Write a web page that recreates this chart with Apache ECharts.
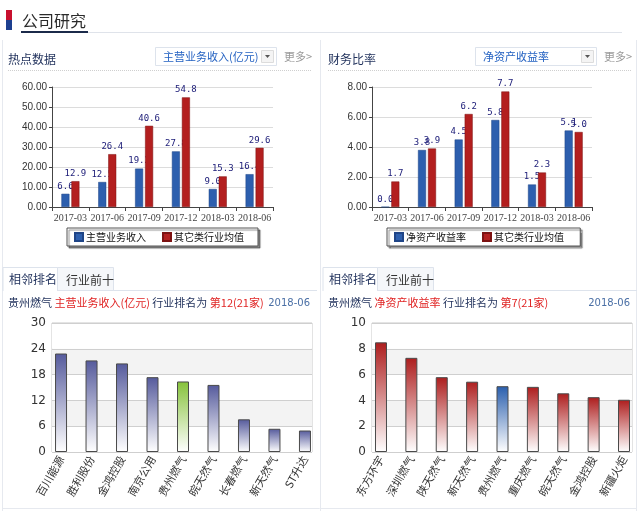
<!DOCTYPE html>
<html>
<head>
<meta charset="utf-8">
<script src="https://cdn.jsdelivr.net/npm/echarts@6/dist/echarts.min.js"></script>
<style>
  html, body { margin: 0; padding: 0; background: #fff; }
  #main { width: 640px; height: 511px; }
</style>
</head>
<body>
<div id="main"></div>
<script>
// 热点数据 / 财务比率
var periods = ["2017-03", "2017-06", "2017-09", "2017-12", "2018-03", "2018-06"];
var revenue = [6.6, 12.5, 19.2, 27.8, 9.0, 16.4];
var revenueAvg = [12.9, 26.4, 40.6, 54.8, 15.3, 29.6];
var roe = [0.0, 3.8, 4.5, 5.8, 1.5, 5.1];
var roeAvg = [1.7, 3.9, 6.2, 7.7, 2.3, 5.0];

// 相邻排名
var revenueRankNames = ["百川能源", "胜利股份", "金鸿控股", "南京公用", "贵州燃气", "皖天然气", "长春燃气", "新天然气", "ST升达"];
var revenueRankValues = [22.9, 21.3, 20.6, 17.4, 16.4, 15.6, 7.6, 5.4, 5.0];
var roeRankNames = ["东方环宇", "深圳燃气", "陕天然气", "新天然气", "贵州燃气", "重庆燃气", "皖天然气", "金鸿控股", "新疆火炬"];
var roeRankValues = [8.5, 7.3, 5.8, 5.45, 5.1, 5.05, 4.55, 4.25, 4.05];
var selfName = "贵州燃气";

var CJK = "'Noto Sans CJK SC', sans-serif";
var BLUE = "#2d5fae", RED = "#b31f1f";

function grad(top) {
  return new echarts.graphic.LinearGradient(0, 0, 0, 1, [
    { offset: 0, color: top },
    { offset: 1, color: "#ffffff" }
  ]);
}

function rankData(names, values, normal, highlight) {
  return values.map(function (v, i) {
    return {
      value: v,
      itemStyle: { color: grad(names[i] === selfName ? highlight : normal) }
    };
  });
}

// 上方两个柱状图的坐标轴
function topX(idx) {
  return {
    gridIndex: idx, type: "category", data: periods,
    axisLine: { lineStyle: { color: "#444" } },
    axisTick: { show: true, length: 4, lineStyle: { color: "#444" } },
    axisLabel: { interval: 0, color: "#444", fontSize: 10, fontFamily: "'Liberation Serif'", margin: 6 }
  };
}
function topY(idx, max, step) {
  return {
    gridIndex: idx, type: "value", min: 0, max: max, interval: step,
    axisLine: { show: true, lineStyle: { color: "#444" } },
    axisTick: { show: true, length: 3, lineStyle: { color: "#444" } },
    splitLine: { lineStyle: { color: "#dcdcdc" } },
    axisLabel: { color: "#333", fontSize: 10, fontFamily: "'Liberation Sans'", margin: 5,
      formatter: function (v) { return v.toFixed(2); } }
  };
}
function barLabel() {
  return {
    show: true, position: "top", distance: 3, color: "#20207a",
    fontFamily: "'DejaVu Sans Mono'", fontSize: 9,
    formatter: function (p) { return p.value.toFixed(1); }
  };
}
function legendBox(left, names) {
  return {
    left: left, top: 228, orient: "horizontal",
    data: names,
    itemWidth: 8, itemHeight: 8, itemGap: 16, icon: "rect",
    padding: [4, 14, 4, 7],
    backgroundColor: "#fff", borderColor: "#555", borderWidth: 1,
    shadowColor: "rgba(0,0,0,0.45)", shadowOffsetX: 2, shadowOffsetY: 2, shadowBlur: 1,
    textStyle: { fontSize: 10, color: "#111", fontFamily: CJK, padding: [0, 0, 0, -2] }
  };
}

// 下方排名图：一个网格画框和背景，一个网格画柱子
function frameY(idx, max, step) {
  return {
    gridIndex: idx, type: "value", min: 0, max: max, interval: step,
    axisLine: { show: false }, axisTick: { show: false },
    splitLine: { lineStyle: { color: "#cfcfcf" } },
    splitArea: { show: true, areaStyle: { color: ["#ffffff", "#f3f3f3"] } },
    axisLabel: { color: "#333", fontSize: 12, fontFamily: "'DejaVu Sans'", margin: 6 }
  };
}
function rankX(idx, names) {
  return {
    gridIndex: idx, type: "category", data: names,
    axisLine: { show: false }, axisTick: { show: false },
    axisLabel: { interval: 0, rotate: 60, color: "#333", fontSize: 11, fontFamily: CJK, margin: 5 }
  };
}

var chart = echarts.init(document.getElementById("main"));

var graphics = [
  // 标题
  { type: "rect", shape: { x: 6, y: 10, width: 6, height: 10 }, style: { fill: "#c8102e" } },
  { type: "rect", shape: { x: 6, y: 20, width: 6, height: 10 }, style: { fill: "#1d3f8f" } },
  { type: "text", x: 22, y: 21, style: { text: "公司研究", font: "16px " + CJK, fill: "#2a2a2a", textVerticalAlign: "middle" } },
  { type: "line", shape: { x1: 88, y1: 32.5, x2: 622, y2: 32.5 }, style: { stroke: "#dfe3ea", lineWidth: 1 } },
  { type: "line", shape: { x1: 21, y1: 32, x2: 88, y2: 32 }, style: { stroke: "#1b2a4a", lineWidth: 2 } },
  // 面板外框与分隔
  { type: "line", shape: { x1: 2.5, y1: 40, x2: 2.5, y2: 511 }, style: { stroke: "#e6e9ef" } },
  { type: "line", shape: { x1: 320.5, y1: 40, x2: 320.5, y2: 511 }, style: { stroke: "#e6e9ef" } },
  { type: "line", shape: { x1: 636.5, y1: 40, x2: 636.5, y2: 511 }, style: { stroke: "#e6e9ef" } },
  { type: "line", shape: { x1: 2, y1: 508.5, x2: 637, y2: 508.5 }, style: { stroke: "#e6e9ef" } }
];

function panelHeader(ox, title, select) {
  graphics.push(
    { type: "text", x: ox + 8, y: 59, style: { text: title, font: "12px " + CJK, fill: "#1e2f5a", textVerticalAlign: "middle" } },
    { type: "rect", shape: { x: ox + 155.5, y: 47.5, width: 121, height: 18 }, style: { fill: "#fff", stroke: "#dde3ec" } },
    { type: "text", x: ox + 163, y: 57, style: { text: select, font: "11px " + CJK, fill: "#2462c2", textVerticalAlign: "middle" } },
    { type: "rect", shape: { x: ox + 261.5, y: 50.5, width: 12, height: 12 }, style: { fill: "#f4f4f4", stroke: "#dcdcdc" } },
    { type: "polygon", shape: { points: [[ox + 265, 55], [ox + 270, 55], [ox + 267.5, 58]] }, style: { fill: "#555" } },
    { type: "text", x: ox + 284, y: 57, style: { text: "更多>", font: "11px " + CJK, fill: "#9a9a9a", textVerticalAlign: "middle" } },
    { type: "line", shape: { x1: ox + 8, y1: 70.5, x2: ox + 312, y2: 70.5 }, style: { stroke: "#cfcfcf", lineDash: [1, 1] } }
  );
}
panelHeader(0, "热点数据", "主营业务收入(亿元)");
panelHeader(320, "财务比率", "净资产收益率");

function rankHeader(ox, metric, rank) {
  graphics.push(
    { type: "line", shape: { x1: ox + 3, y1: 290.5, x2: ox + 317, y2: 290.5 }, style: { stroke: "#dde3ec" } },
    { type: "rect", shape: { x: ox + 57.5, y: 267.5, width: 56, height: 23 }, style: { fill: "#f5f7fa", stroke: "#dde3ec" } },
    { type: "rect", shape: { x: ox + 3, y: 267.5, width: 54.5, height: 23.5 }, style: { fill: "#fff", stroke: "none" } },
    { type: "polyline", shape: { points: [[ox + 3, 291], [ox + 3, 267.5], [ox + 57.5, 267.5], [ox + 57.5, 291]] }, style: { stroke: "#dde3ec", fill: "none" } },
    { type: "text", x: ox + 9, y: 279, style: { text: "相邻排名", font: "12px " + CJK, fill: "#1e2f5a", textVerticalAlign: "middle" } },
    { type: "text", x: ox + 66, y: 280, style: { text: "行业前十", font: "12px " + CJK, fill: "#333", textVerticalAlign: "middle" } },
    { type: "text", x: ox + 8, y: 303, style: {
      text: "{n|贵州燃气} {r|" + metric + "} {n|行业排名为} {r|" + rank + "}",
      font: "11px " + CJK, textVerticalAlign: "middle",
      rich: { n: { fill: "#1e2f5a", font: "11px " + CJK }, r: { fill: "#e02424", font: "11px " + CJK } }
    } },
    { type: "text", x: ox + 310, y: 303, style: { text: "2018-06", font: "10px 'DejaVu Sans'", fill: "#4a6fa5", textAlign: "right", textVerticalAlign: "middle" } }
  );
}
rankHeader(0, "主营业务收入(亿元)", "第12(21家)");
rankHeader(320, "净资产收益率", "第7(21家)");

chart.setOption({
  animation: false,
  textStyle: { fontFamily: CJK },
  graphic: graphics,
  grid: [
    { left: 52, top: 87, width: 221, height: 120 },
    { left: 372, top: 87, width: 220, height: 120 },
    { left: 52, top: 323, width: 260, height: 129, show: true, borderColor: "#c8c8c8", backgroundColor: "transparent" },
    { left: 45.8, top: 323, width: 274.4, height: 129 },
    { left: 372, top: 323, width: 260, height: 129, show: true, borderColor: "#c8c8c8", backgroundColor: "transparent" },
    { left: 365.8, top: 323, width: 273.4, height: 129 }
  ],
  legend: [
    legendBox(67, ["主营业务收入", "其它类行业均值"]),
    legendBox(387, ["净资产收益率", "其它类行业均值 "])
  ],
  xAxis: [
    topX(0),
    topX(1),
    { gridIndex: 2, type: "value", show: false },
    rankX(3, revenueRankNames),
    { gridIndex: 4, type: "value", show: false },
    rankX(5, roeRankNames)
  ],
  yAxis: [
    topY(0, 60, 10),
    topY(1, 8, 2),
    frameY(2, 30, 6),
    { gridIndex: 3, type: "value", min: 0, max: 30, show: false },
    frameY(4, 10, 2),
    { gridIndex: 5, type: "value", min: 0, max: 10, show: false }
  ],
  series: [
    { name: "主营业务收入", type: "bar", xAxisIndex: 0, yAxisIndex: 0, data: revenue, z: 2,
      barWidth: 8, barGap: "25%", itemStyle: { color: BLUE, borderColor: "#1f4587", borderWidth: 0.5 }, label: barLabel() },
    { name: "其它类行业均值", type: "bar", xAxisIndex: 0, yAxisIndex: 0, data: revenueAvg, z: 3,
      barWidth: 8, barGap: "25%", itemStyle: { color: RED, borderColor: "#7d1212", borderWidth: 0.5 }, label: barLabel() },
    { name: "净资产收益率", type: "bar", xAxisIndex: 1, yAxisIndex: 1, data: roe, z: 2,
      barWidth: 8, barGap: "25%", itemStyle: { color: BLUE, borderColor: "#1f4587", borderWidth: 0.5 }, label: barLabel() },
    { name: "其它类行业均值 ", type: "bar", xAxisIndex: 1, yAxisIndex: 1, data: roeAvg, z: 3,
      barWidth: 8, barGap: "25%", itemStyle: { color: RED, borderColor: "#7d1212", borderWidth: 0.5 }, label: barLabel() },
    { type: "bar", xAxisIndex: 3, yAxisIndex: 3, barWidth: 12,
      data: rankData(revenueRankNames, revenueRankValues, "#555a9c", "#86c23a"),
      itemStyle: { borderColor: "#4a4a4a", borderWidth: 1 } },
    { type: "bar", xAxisIndex: 5, yAxisIndex: 5, barWidth: 12,
      data: rankData(roeRankNames, roeRankValues, "#ad1d1d", "#2a5fae"),
      itemStyle: { borderColor: "#4a4a4a", borderWidth: 1 } }
  ]
});
</script>
</body>
</html>
